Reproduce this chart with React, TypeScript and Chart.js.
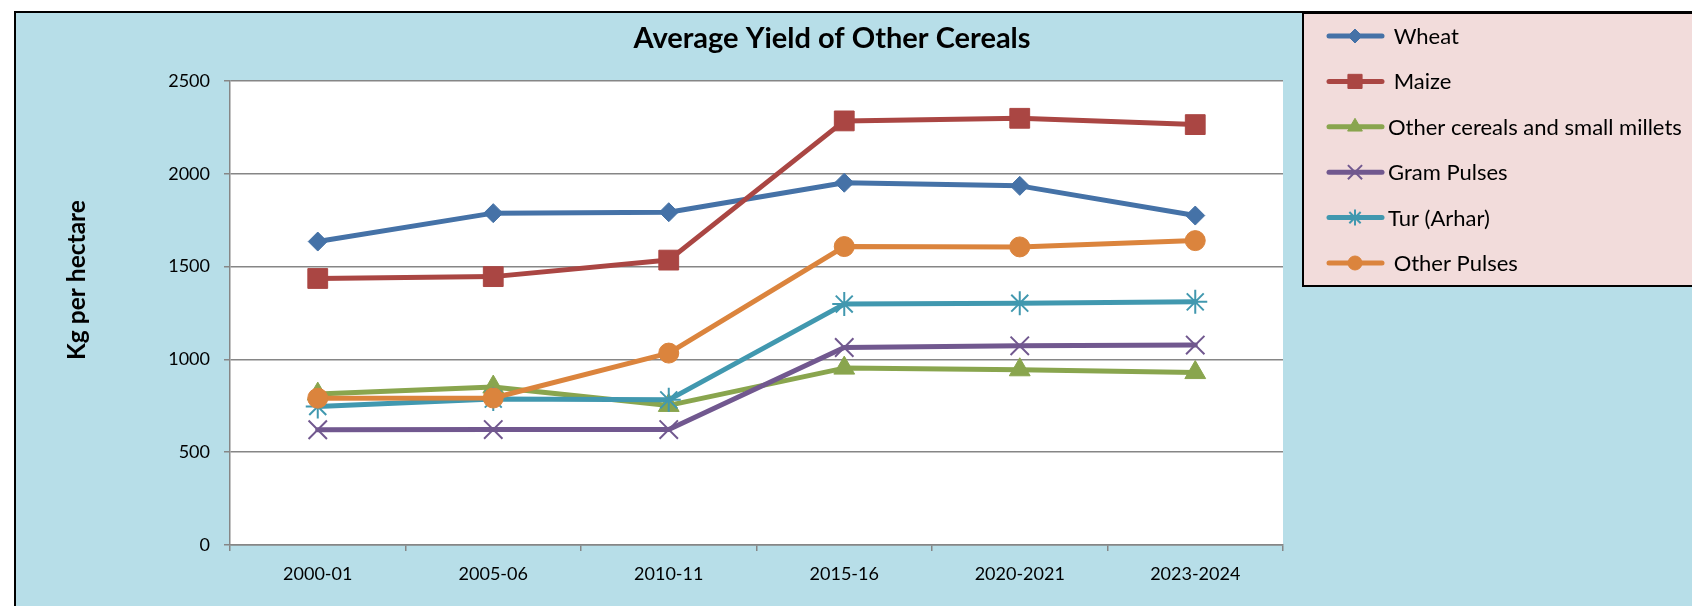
import React, { useEffect, useRef } from 'react';
import { Chart, registerables } from 'chart.js';
import { drawPoint } from 'chart.js/helpers';

Chart.register(...registerables);

const categories = ['2000-01', '2005-06', '2010-11', '2015-16', '2020-2021', '2023-2024'];
const wheat = [1635, 1788, 1793, 1952, 1935, 1775];
const maize = [1436, 1446, 1535, 2285, 2299, 2265];
const otherCereals = [813, 851, 752, 953, 944, 929];
const gramPulses = [621, 622, 622, 1064, 1073, 1077];
const tur = [746, 786, 782, 1298, 1303, 1310];
const otherPulses = [791, 792, 1034, 1608, 1606, 1640];
const seriesNames = [' Wheat', ' Maize', 'Other cereals and small millets', 'Gram Pulses', 'Tur (Arhar)', ' Other Pulses'];
const yMin = 0;
const yMax = 2500;
const yStep = 500;
const chartTitle = 'Average Yield of Other Cereals';
const yAxisTitle = 'Kg per hectare';

const colors = ['#4572A7', '#AA4643', '#89A54E', '#71588F', '#4198AF', '#DB843D'];
const pointStyles = ['rectRot', 'rect', 'triangle', 'crossRot', 'star', 'circle'];
const pointRadii = [9.5, 14, 12, 13, 12, 10];
const legendRadii = [7, 10, 8.5, 10, 8, 7];
const seriesValues = [wheat, maize, otherCereals, gramPulses, tur, otherPulses];

const FONT = 'Lato, "Open Sans", sans-serif';

const framePlugin = {
  id: 'frame',
  beforeDraw(chart: any) {
    const { ctx, chartArea, width, height } = chart;
    ctx.save();
    ctx.fillStyle = '#ffffff';
    ctx.fillRect(0, 0, width, height);
    ctx.fillStyle = '#B7DEE8';
    ctx.fillRect(15, 12, width, height);
    ctx.strokeStyle = '#000000';
    ctx.lineWidth = 2;
    ctx.beginPath();
    ctx.moveTo(15, height + 5);
    ctx.lineTo(15, 12);
    ctx.lineTo(width + 5, 12);
    ctx.stroke();
    ctx.fillStyle = '#ffffff';
    ctx.fillRect(chartArea.left, chartArea.top, chartArea.right - chartArea.left, chartArea.bottom - chartArea.top);

    // title
    ctx.fillStyle = '#000000';
    ctx.font = `bold 29px ${FONT}`;
    ctx.textAlign = 'center';
    ctx.textBaseline = 'alphabetic';
    ctx.fillText(chartTitle, 832, 48);

    // y axis title
    ctx.save();
    ctx.translate(77, 280);
    ctx.rotate(-Math.PI / 2);
    ctx.font = `bold 24.5px ${FONT}`;
    ctx.textAlign = 'center';
    ctx.textBaseline = 'middle';
    ctx.fillText(yAxisTitle, 0, 0);
    ctx.restore();
    ctx.restore();
  },
  afterDraw(chart: any) {
    const { ctx } = chart;
    ctx.save();
    const bx = 1303, by = 13, bh = 273;
    ctx.fillStyle = '#F2DCDB';
    ctx.fillRect(bx, by, chart.width - bx + 10, bh);
    ctx.strokeStyle = '#000000';
    ctx.lineWidth = 2;
    ctx.strokeRect(bx, by, chart.width - bx + 10, bh);
    chart.data.datasets.forEach((ds: any, i: number) => {
      const y = 36 + i * 45.4;
      ctx.strokeStyle = ds.borderColor;
      ctx.lineWidth = 5;
      ctx.lineCap = 'round';
      ctx.beginPath();
      ctx.moveTo(1329, y);
      ctx.lineTo(1382, y);
      ctx.stroke();
      ctx.fillStyle = ds.pointBackgroundColor;
      ctx.strokeStyle = ds.pointBorderColor;
      ctx.lineWidth = ds.pointBorderWidth;
      ctx.lineCap = 'butt';
      drawPoint(ctx, { pointStyle: ds.pointStyle, rotation: 0, borderWidth: ds.pointBorderWidth, radius: legendRadii[i] }, 1355, y);
      ctx.fillStyle = '#000000';
      ctx.font = `22px ${FONT}`;
      ctx.textAlign = 'left';
      ctx.textBaseline = 'middle';
      ctx.fillText(ds.label, 1388, y + 1);
    });
    ctx.restore();
  },
};

export default function App() {
  const canvasRef = useRef<HTMLCanvasElement | null>(null);

  useEffect(() => {
    if (!canvasRef.current) return;
    const datasets = seriesValues.map((vals, i) => ({
      label: seriesNames[i],
      data: vals,
      borderColor: colors[i],
      backgroundColor: colors[i],
      pointBackgroundColor: colors[i],
      pointBorderColor: colors[i],
      pointBorderWidth: pointStyles[i] === 'crossRot' || pointStyles[i] === 'star' ? 2 : 1,
      pointStyle: pointStyles[i],
      pointRadius: pointRadii[i],
      borderWidth: 5,
      tension: 0,
      borderJoinStyle: 'round',
      borderCapStyle: 'round',
      order: seriesValues.length - i,
      fill: false,
    }));
    const chart = new Chart(canvasRef.current, {
      type: 'line',
      data: { labels: categories, datasets },
      plugins: [framePlugin],
      options: {
        responsive: false,
        animation: false,
        devicePixelRatio: 1,
        layout: { padding: { left: 0, top: 81, right: 409, bottom: 0 } },
        plugins: {
          legend: { display: false },
          title: { display: false },
          tooltip: { enabled: false },
        },
        scales: {
          x: {
            type: 'category',
            offset: true,
            grid: { offset: true, drawOnChartArea: false, drawTicks: true, tickLength: 6, color: '#868686', lineWidth: 1.5 },
            border: { color: '#868686', width: 1.5 },
            ticks: { color: '#000000', font: { family: FONT, size: 18 }, padding: 12, maxRotation: 0, autoSkip: false },
            afterFit: (s: any) => { s.height = 61; },
          },
          y: {
            min: yMin,
            max: yMax,
            ticks: {
              stepSize: yStep,
              color: '#000000',
              font: { family: FONT, size: 18 },
              padding: 14,
              callback: (v: any) => String(v),
            },
            grid: { color: '#868686', lineWidth: 1.5, tickLength: 6, drawTicks: true },
            border: { color: '#868686', width: 1.5 },
            afterFit: (s: any) => { s.width = 230; },
          },
        },
      } as any,
    });
    return () => chart.destroy();
  }, []);

  return (
    <div style={{ position: 'fixed', left: 0, top: 0, width: 1692, height: 606, background: '#fff' }}>
      <canvas ref={canvasRef} width={1692} height={606} style={{ display: 'block', width: 1692, height: 606 }} />
    </div>
  );
}
